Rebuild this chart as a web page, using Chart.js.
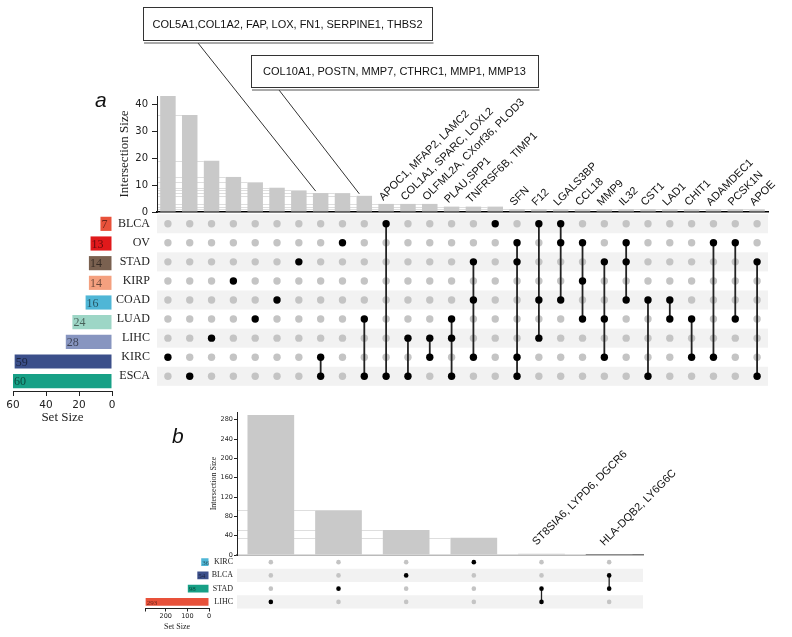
<!DOCTYPE html>
<html><head><meta charset="utf-8">
<script src="https://cdn.jsdelivr.net/npm/chart.js@4/dist/chart.umd.min.js"></script>
<style>
html,body{margin:0;padding:0;background:#fff;}
#wrap{position:relative;width:792px;height:637px;overflow:hidden;background:#fff;}
canvas{position:absolute;}
.lab{position:absolute;font-family:"Liberation Sans",Arial,sans-serif;font-style:italic;font-size:21px;color:#111;line-height:1;}
</style></head><body>
<div id="wrap">
<canvas id="cTopBar" width="792" height="222" style="left:0;top:0"></canvas>
<canvas id="cTopMat" width="792" height="200" style="left:0;top:200px"></canvas>
<canvas id="cTopSet" width="130" height="240" style="left:0;top:200px"></canvas>
<canvas id="cBotBar" width="792" height="160" style="left:0;top:400px"></canvas>
<canvas id="cBotMat" width="792" height="80" style="left:0;top:540px"></canvas>
<canvas id="cBotSet" width="140" height="97" style="left:100px;top:540px"></canvas>
<div class="lab" style="left:95px;top:89px">a</div>
<div class="lab" style="left:172px;top:425px">b</div>
</div>
<script>
// ---------------- DATA ----------------
// Panel a
const topSets = ['BLCA','OV','STAD','KIRP','COAD','LUAD','LIHC','KIRC','ESCA'];
const topSetSizes = [7,13,14,14,16,24,28,59,60];
const topSetColors = ['#e8513a','#e0191b','#7a6150','#f4a07f','#4fb6d6','#9dd6c6','#8795c0','#3b4f8a','#17a086'];
const topCounts = [43,36,19,13,11,9,8,7,7,6,3,3,3,2,2,2,1,1,1,1,1,1,1,1,1,1,1,1];
const topGeneLabels = ['','','','','','','','','','',
  'APOC1, MFAP2, LAMC2','COL1A1, SPARC, LOXL2','OLFML2A, CXorf36, PLOD3','PLAU,SPP1','TNFRSF6B, TIMP1','',
  'SFN','F12','LGALS3BP','CCL18','MMP9','IL32','CST1','LAD1','CHIT1','ADAMDEC1','PCSK1N','APOE'];
const topMembers = [
  ['KIRC'],['ESCA'],['LIHC'],['KIRP'],['LUAD'],['COAD'],['STAD'],['KIRC','ESCA'],['OV'],['LUAD','ESCA'],
  ['BLCA','ESCA'],['LIHC','ESCA'],['LIHC','KIRC'],['LUAD','LIHC','ESCA'],['STAD','COAD','KIRC'],['BLCA'],
  ['OV','STAD','KIRC','ESCA'],['BLCA','COAD','LIHC'],['BLCA','OV','COAD'],['OV','KIRP','LUAD'],
  ['STAD','LUAD','KIRC'],['OV','STAD','COAD'],['COAD','ESCA'],['COAD','LUAD'],['LUAD','KIRC'],
  ['OV','KIRC'],['OV','LUAD'],['STAD','ESCA']];
const topCallouts = [
  {col: 7, text: 'COL5A1,COL1A2, FAP, LOX, FN1, SERPINE1, THBS2'},
  {col: 9, text: 'COL10A1, POSTN, MMP7, CTHRC1, MMP1, MMP13'}];
const topBarTicks = [0,5,10,15,20,25,30,35,40];
const topSetTicks = [0,20,40,60];

// Panel b
const botSets = ['KIRC','BLCA','STAD','LIHC'];
const botSetSizes = [36,54,98,293];
const botSetColors = ['#4fb6d6','#3b4f8a','#17a086','#e8513a'];
const botCounts = [290,93,52,36,3,2];
const botGeneLabels = ['','','','','ST8SIA6, LYPD6, DGCR6','HLA-DQB2, LY6G6C'];
const botMembers = [['LIHC'],['STAD'],['BLCA'],['KIRC'],['STAD','LIHC'],['BLCA','STAD']];
const botBarTicks = [0,20,40,60,80,100,120,140,160,180,200,220,240,260,280];
const botSetTicks = [0,100,200];

// ---------------- LAYOUT (boxes for callouts) ----------------
const topBoxes = [{x:143,y:7,w:289,h:33,ax:198},{x:251,y:55,w:287,h:32,ax:279}];

Chart.defaults.animation = false;
Chart.defaults.responsive = false;
Chart.defaults.plugins.legend.display = false;
Chart.defaults.plugins.tooltip.enabled = false;
Chart.defaults.color = '#222';

function makeBars(id, counts, geneLabels, o) {
  const decor = {
    id: 'decor' + id,
    beforeDatasetsDraw(chart) {
      const meta = chart.getDatasetMeta(0), ctx = chart.ctx, a = chart.chartArea;
      ctx.save(); ctx.strokeStyle = '#dedede'; ctx.lineWidth = 1;
      meta.data.forEach((b, i) => {
        if (i === 0) return;
        const y = Math.round(b.y) + 0.5;
        ctx.beginPath(); ctx.moveTo(a.left + 1, y); ctx.lineTo(b.x - b.width / 2, y); ctx.stroke();
      });
      ctx.restore();
    },
    afterDraw(chart) {
      const meta = chart.getDatasetMeta(0), ctx = chart.ctx;
      ctx.save();
      ctx.font = o.labelFont; ctx.fillStyle = '#111'; ctx.textAlign = 'left'; ctx.textBaseline = 'alphabetic';
      meta.data.forEach((b, i) => {
        const t = geneLabels[i]; if (!t) return;
        ctx.save(); ctx.translate(b.x + o.ldx, b.y + o.ldy); ctx.rotate(-Math.PI / 4);
        ctx.fillText(t, 0, 0); ctx.restore();
      });
      (o.callouts || []).forEach((c, k) => {
        const bx = o.boxes[k], b = meta.data[c.col];
        ctx.strokeStyle = '#333'; ctx.lineWidth = 1;
        ctx.beginPath(); ctx.moveTo(bx.ax, bx.y + bx.h + 3); ctx.lineTo(b.x - 5, b.y - 2); ctx.stroke();
        ctx.fillStyle = '#fff'; ctx.fillRect(bx.x, bx.y, bx.w, bx.h);
        ctx.strokeRect(bx.x + 0.5, bx.y + 0.5, bx.w, bx.h);
        ctx.strokeStyle = '#555';
        ctx.beginPath(); ctx.moveTo(bx.x + 1, bx.y + bx.h + 3); ctx.lineTo(bx.x + bx.w + 1.5, bx.y + bx.h + 3); ctx.stroke();
        ctx.fillStyle = '#111'; ctx.font = '11px "Liberation Sans", Arial, sans-serif';
        ctx.textAlign = 'center'; ctx.textBaseline = 'middle';
        ctx.fillText(c.text, bx.x + bx.w / 2, bx.y + bx.h / 2 + 1);
      });
      ctx.restore();
    }
  };
  return new Chart(document.getElementById(id), {
    type: 'bar',
    data: { labels: counts.map((_, i) => 'c' + (i + 1)),
      datasets: [{ data: counts, backgroundColor: '#c9c9c9', barPercentage: o.barPct, categoryPercentage: 1 }] },
    options: {
      layout: { padding: o.pad },
      scales: {
        x: { ticks: { display: false }, grid: { display: false, drawTicks: false },
             border: { display: true, color: o.axisColor, width: 1.5 },
             afterFit: s => { s.height = 0; } },
        y: { min: 0, max: o.max,
             afterBuildTicks: s => { s.ticks = o.ticks.map(v => ({ value: v })); },
             ticks: { font: { family: 'DejaVu Sans', size: o.tickSize }, padding: o.tickPad, color: '#222' },
             grid: { display: true, drawOnChartArea: false, drawTicks: true, tickLength: o.tickLen, color: '#222' },
             border: { display: true, color: '#222', width: 1 },
             title: { display: true, text: 'Intersection Size', color: '#222',
                      font: { family: 'Liberation Serif', size: o.titleSize }, padding: { top: o.titlePad, bottom: 0 } },
             afterFit: s => { s.width = o.yWidth; } }
      }
    },
    plugins: [decor]
  });
}

function makeMatrix(id, sets, members, o) {
  const gray = [], black = [], lines = [];
  members.forEach((m, c) => {
    const idx = m.map(s => sets.indexOf(s));
    sets.forEach((s, r) => { (idx.includes(r) ? black : gray).push({ x: c + 1, y: r }); });
    if (idx.length > 1) lines.push([{ x: c + 1, y: Math.min(...idx) }, { x: c + 1, y: Math.max(...idx) }]);
  });
  const stripes = {
    id: 'stripes' + id,
    beforeDatasetsDraw(chart) {
      const ctx = chart.ctx, a = chart.chartArea, ys = chart.scales.y;
      ctx.save(); ctx.fillStyle = '#f2f2f2';
      sets.forEach((s, r) => {
        if (r % 2 !== o.stripeParity) return;
        const t = ys.getPixelForValue(r - 0.5), b = ys.getPixelForValue(r + 0.5);
        ctx.fillRect(a.left, t, a.right - a.left, b - t);
      });
      ctx.restore();
    }
  };
  const datasets = [
    { data: black, pointRadius: o.r, backgroundColor: '#000', borderWidth: 0, order: 0 },
    ...lines.map(l => ({ data: l, showLine: true, borderColor: '#222', borderWidth: o.lw, pointRadius: 0, order: 1 })),
    { data: gray, pointRadius: o.r, backgroundColor: '#c4c4c4', borderWidth: 0, order: 2 }
  ];
  return new Chart(document.getElementById(id), {
    type: 'scatter',
    data: { datasets },
    options: {
      layout: { padding: o.pad },
      scales: {
        x: { type: 'linear', min: 0.5, max: members.length + 0.5, display: false },
        y: { type: 'linear', reverse: true, min: -0.5, max: sets.length - 0.5,
             afterBuildTicks: s => { s.ticks = sets.map((_, i) => ({ value: i })); },
             ticks: { callback: v => sets[v], font: { family: 'Liberation Serif', size: o.fontSize }, padding: o.labPad, color: '#222' },
             grid: { display: false, drawTicks: false, tickLength: 0 }, border: { display: false },
             afterFit: s => { s.width = o.yWidth; } }
      }
    },
    plugins: [stripes]
  });
}

function makeSetSize(id, sets, sizes, colors, o) {
  const vals = {
    id: 'vals' + id,
    afterDatasetsDraw(chart) {
      const meta = chart.getDatasetMeta(0), ctx = chart.ctx;
      ctx.save(); ctx.font = o.valFont; ctx.fillStyle = 'rgba(0,0,0,0.55)';
      ctx.textAlign = 'left'; ctx.textBaseline = 'middle';
      meta.data.forEach((b, i) => { ctx.fillText(String(sizes[i]), Math.min(b.x, b.base) + 1, b.y + 1); });
      ctx.restore();
    }
  };
  return new Chart(document.getElementById(id), {
    type: 'bar',
    data: { labels: sets, datasets: [{ data: sizes, backgroundColor: colors, barPercentage: o.barPct, categoryPercentage: 1 }] },
    options: {
      indexAxis: 'y',
      layout: { padding: o.pad },
      scales: {
        y: { display: false },
        x: { reverse: true, min: 0, max: o.max,
             afterBuildTicks: s => { s.ticks = o.ticks.concat(o.ticks.includes(o.max) ? [] : [o.max]).map(v => ({ value: v })); },
             ticks: { callback: v => o.ticks.includes(v) ? String(v) : '', maxRotation: 0,
                      font: { family: 'DejaVu Sans', size: o.tickSize }, padding: o.tickPad, color: '#222' },
             grid: { display: true, drawOnChartArea: false, drawTicks: true, tickLength: o.tickLen, color: '#222' },
             border: { display: true, color: '#222', width: 1 },
             title: { display: true, text: 'Set Size', color: '#222',
                      font: { family: 'Liberation Serif', size: o.titleSize }, padding: { top: 0, bottom: o.titlePad } },
             afterFit: s => { s.height = o.xHeight; } }
      }
    },
    plugins: [vals]
  });
}

// ---------------- Panel a ----------------
makeBars('cTopBar', topCounts, topGeneLabels, {
  pad: { left: 115, right: 24, top: 96, bottom: 7 }, yWidth: 42, max: 43, ticks: topBarTicks,
  tickSize: 10, tickPad: 4, tickLen: 5, titleSize: 13, titlePad: 2, barPct: 0.71, axisColor: '#000',
  labelFont: '11px "Liberation Sans", Arial, sans-serif', ldx: -3, ldy: -3,
  callouts: topCallouts, boxes: topBoxes
});
makeMatrix('cTopMat', topSets, topMembers, {
  pad: { left: 112, right: 24, top: 14, bottom: 9 }, yWidth: 45, fontSize: 12, labPad: 7,
  r: 3.7, lw: 1.8, stripeParity: 0
});
makeSetSize('cTopSet', topSets, topSetSizes, topSetColors, {
  pad: { left: 13, right: 18, top: 14, bottom: 11 }, xHeight: 38, max: 60, ticks: topSetTicks,
  tickSize: 10.5, tickPad: 3, tickLen: 5, titleSize: 13, titlePad: 4, barPct: 0.72,
  valFont: '12px "Liberation Serif", serif'
});

// ---------------- Panel b ----------------
makeBars('cBotBar', botCounts, botGeneLabels, {
  pad: { left: 208, right: 149, top: 12, bottom: 4 }, yWidth: 29, max: 296, ticks: botBarTicks,
  tickSize: 6.5, tickPad: 1, tickLen: 3, titleSize: 8, titlePad: 1, barPct: 0.69, axisColor: '#777',
  labelFont: '11px "Liberation Sans", Arial, sans-serif', ldx: -5, ldy: -8
});
makeMatrix('cBotMat', botSets, botMembers, {
  pad: { left: 208, right: 149, top: 15.5, bottom: 11.5 }, yWidth: 29, fontSize: 8, labPad: 4,
  r: 2.3, lw: 1.3, stripeParity: 1
});
makeSetSize('cBotSet', botSets, botSetSizes, botSetColors, {
  pad: { left: 45, right: 31, top: 15.5, bottom: 4.2 }, xHeight: 24.3, max: 296, ticks: botSetTicks,
  tickSize: 6.5, tickPad: 1, tickLen: 3, titleSize: 8, titlePad: 1, barPct: 0.6,
  valFont: '7px "Liberation Serif", serif'
});
</script>
</body></html>
